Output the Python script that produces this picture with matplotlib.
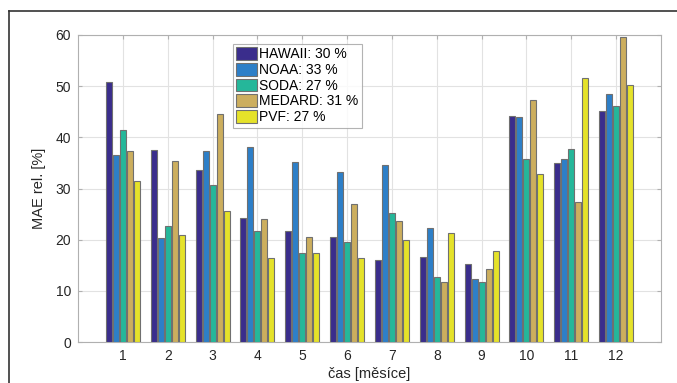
import numpy as np
import matplotlib
matplotlib.use('Agg')
import matplotlib.pyplot as plt
from matplotlib.lines import Line2D

# data
months = np.arange(1, 13)
hawaii = [50.9, 37.5, 33.6, 24.2, 21.6, 20.6, 16.0, 16.7, 15.2, 44.1, 35.0, 45.2]
noaa   = [36.5, 20.3, 37.3, 38.1, 35.1, 33.2, 34.6, 22.2, 12.3, 44.0, 35.8, 48.5]
soda   = [41.5, 22.6, 30.6, 21.6, 17.3, 19.5, 25.3, 12.8, 11.8, 35.8, 37.8, 46.1]
medard = [37.3, 35.3, 44.6, 24.0, 20.6, 27.0, 23.7, 11.7, 14.3, 47.3, 27.3, 59.6]
pvf    = [31.5, 21.0, 25.7, 16.4, 17.3, 16.5, 19.9, 21.4, 17.7, 32.9, 51.5, 50.3]
labels = ['HAWAII: 30 %', 'NOAA: 33 %', 'SODA: 27 %', 'MEDARD: 31 %', 'PVF: 27 %']
colors = ['#3a2d8c', '#2d7fc8', '#25b79a', '#ccae5e', '#e5e22a']

plt.rcParams['font.family'] = ['Liberation Sans', 'DejaVu Sans']

fig = plt.figure(figsize=(6.77, 3.83), dpi=100)
ax = fig.add_axes([78/677, 1-342/383, (661-78)/677, (342-35)/383])

step = 0.156
w = 0.135
for k, (vals, lab, c) in enumerate(zip([hawaii, noaa, soda, medard, pvf], labels, colors)):
    ax.bar(months + (k-2)*step, vals, width=w, color=c, edgecolor='#707070',
           linewidth=0.8, label=lab, zorder=3)

ax.set_xlim(0, 13)
ax.set_ylim(0, 60)
ax.set_xticks(months)
ax.set_yticks(range(0, 61, 10))
ax.grid(True, color='#e2e2e2', linewidth=0.8, zorder=0)
ax.set_axisbelow(True)
ax.tick_params(direction='in', length=3, color='#b0b0b0', labelsize=10,
               labelcolor='#262626', top=True, right=True, pad=5)
for s in ax.spines.values():
    s.set_color('#b0b0b0')
    s.set_linewidth(0.8)

ax.set_xlabel('čas [měsíce]', fontsize=10.5, color='#262626', labelpad=3)
ax.set_ylabel('MAE rel. [%]', fontsize=10.5, color='#262626', labelpad=7)

leg = ax.legend(loc='upper left', bbox_to_anchor=((233-78)/583, 1-(44-35)/307),
                fontsize=10, frameon=True, fancybox=False, edgecolor='#a0a0a0',
                handlelength=1.5, handleheight=1.0, handletextpad=0.15,
                labelspacing=0.12, borderpad=0.25, borderaxespad=0)
leg.get_frame().set_linewidth(0.8)

# outer frame (only left and top visible)
fig.add_artist(Line2D([9/677, 9/677], [0, 1-11/383], color='#333333',
                      linewidth=1.2, transform=fig.transFigure))
fig.add_artist(Line2D([9/677, 1], [1-11/383, 1-11/383], color='#333333',
                      linewidth=1.2, transform=fig.transFigure))

fig.savefig('out.png', dpi=100, facecolor='white')
